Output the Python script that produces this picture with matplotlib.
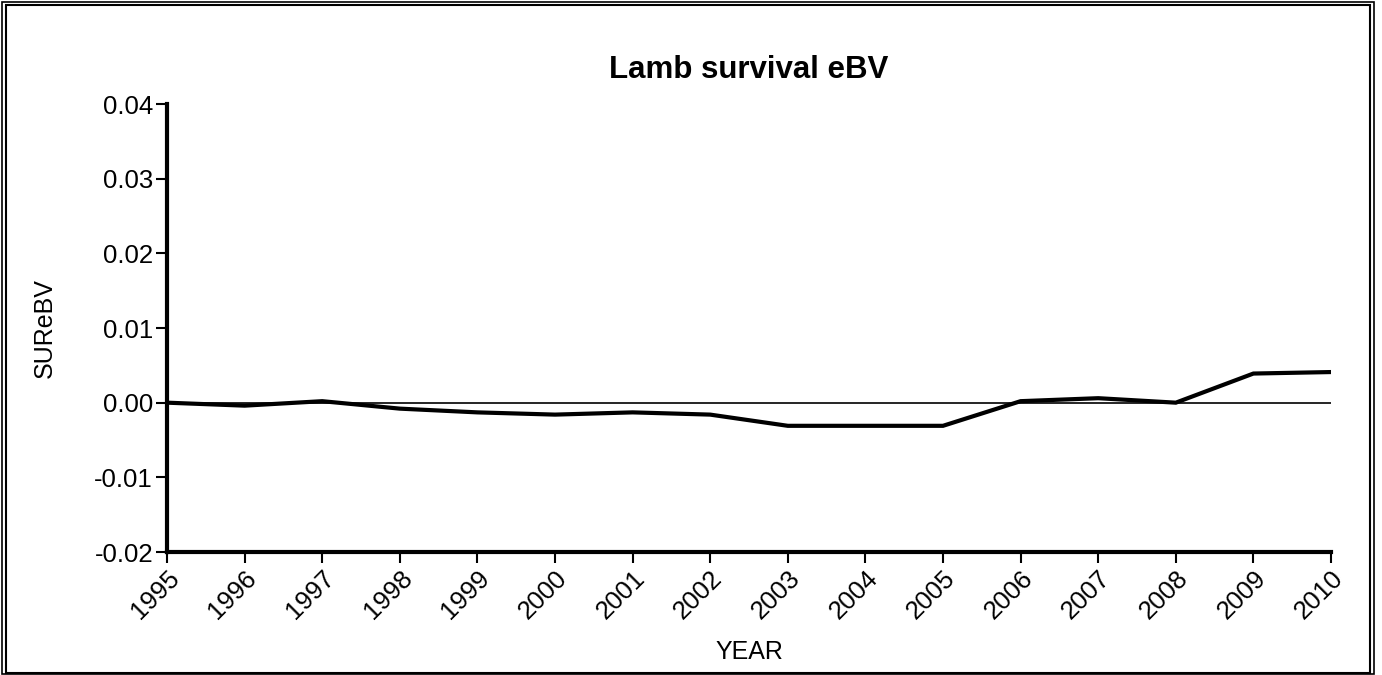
import matplotlib.pyplot as plt
from matplotlib.patches import Rectangle

plt.rcParams['font.family'] = ['Liberation Sans', 'DejaVu Sans']

years = list(range(1995, 2011))
sur_ebv = [0.0, -0.0004, 0.0002, -0.0008, -0.0013, -0.0016, -0.0013, -0.0016,
           -0.0031, -0.0031, -0.0031, 0.0002, 0.0006, 0.0, 0.0039, 0.0041]
y_ticks = [-0.02, -0.01, 0.0, 0.01, 0.02, 0.03, 0.04]

W, H = 1382, 675
fig = plt.figure(figsize=(W / 100, H / 100), dpi=100)
ax = fig.add_axes([167 / W, 1 - 552 / H, (1331 - 167) / W, (552 - 104) / H])

# double border around the whole picture
fig.patches.append(Rectangle((6 / W, 2 / H), (1370 - 6) / W, (670 - 2) / H,
                             transform=fig.transFigure, fill=False, lw=1.5, ec='black'))
fig.patches.append(Rectangle((2 / W, 1 / H), (1374 - 2) / W, (673 - 1) / H,
                             transform=fig.transFigure, fill=False, lw=1.2, ec='black'))

ax.axhline(0, color='black', lw=1.2)
ax.plot(years, sur_ebv, color='black', lw=3, solid_joinstyle='miter')

ax.set_xlim(1995, 2010)
ax.set_ylim(-0.02, 0.04)
ax.set_yticks(y_ticks)
ax.set_yticklabels([f'{v:.2f}' for v in y_ticks])
ax.set_xticks(years)
ax.set_xticklabels([str(y) for y in years], rotation=45, ha='right',
                   rotation_mode='anchor')

for side in ['top', 'right']:
    ax.spines[side].set_visible(False)
for side in ['left', 'bottom']:
    ax.spines[side].set_linewidth(3)
ax.tick_params(axis='both', direction='out', length=8, width=1.5,
               labelsize=18.5, pad=2)

ax.set_title('Lamb survival eBV', fontsize=22.5, fontweight='bold', pad=19)
fig.text(749 / W, 1 - 652 / H, 'YEAR', fontsize=18, ha='center', va='center')
fig.text(45 / W, 1 - 328 / H, 'SUReBV', fontsize=18, ha='center', va='center',
         rotation=90)

fig.savefig('out.png', dpi=100)
